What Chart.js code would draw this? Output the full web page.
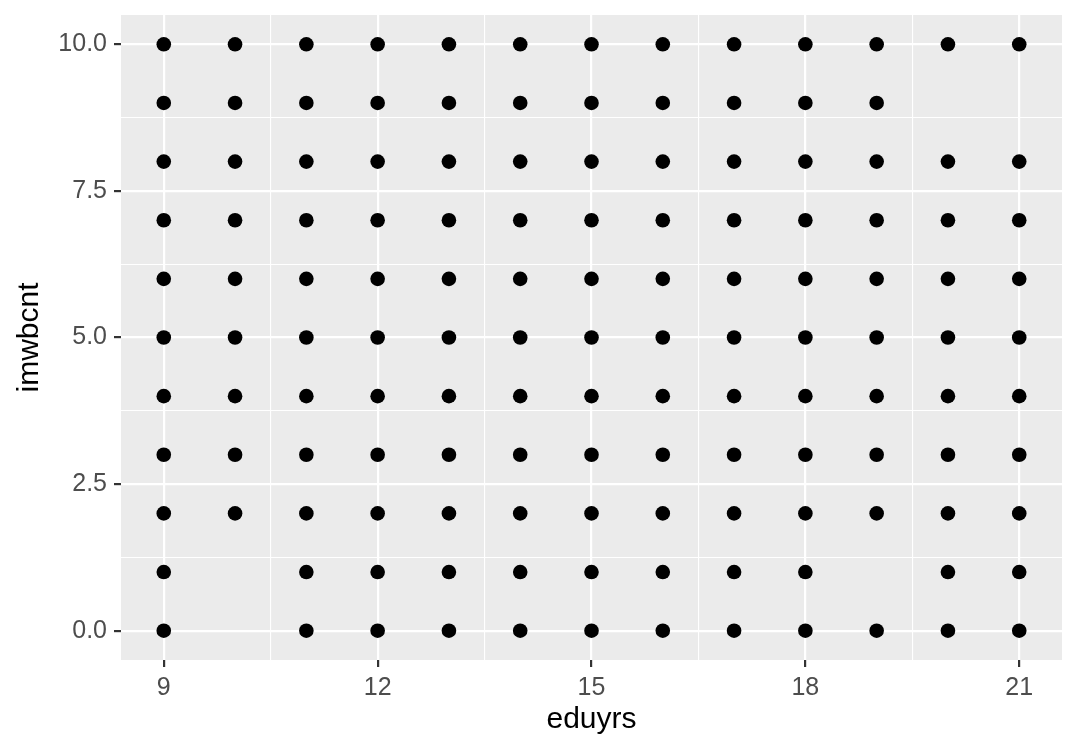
<!DOCTYPE html>
<html>
<head>
<meta charset="utf-8">
<script src="https://cdn.jsdelivr.net/npm/chart.js@4.4.0/dist/chart.umd.min.js"></script>
<style>
html,body{margin:0;padding:0;background:#fff;}
canvas{display:block;}
</style>
</head>
<body>
<canvas id="c" width="1080" height="756"></canvas>
<script>
// Data
const eduyrs = [9, 10, 11, 12, 13, 14, 15, 16, 17, 18, 19, 20, 21];
const imwbcntLevels = [
  [0,1,2,3,4,5,6,7,8,9,10],   // 9
  [2,3,4,5,6,7,8,9,10],       // 10
  [0,1,2,3,4,5,6,7,8,9,10],   // 11
  [0,1,2,3,4,5,6,7,8,9,10],   // 12
  [0,1,2,3,4,5,6,7,8,9,10],   // 13
  [0,1,2,3,4,5,6,7,8,9,10],   // 14
  [0,1,2,3,4,5,6,7,8,9,10],   // 15
  [0,1,2,3,4,5,6,7,8,9,10],   // 16
  [0,1,2,3,4,5,6,7,8,9,10],   // 17
  [0,1,2,3,4,5,6,7,8,9,10],   // 18
  [0,2,3,4,5,6,7,8,9,10],     // 19
  [0,1,2,3,4,5,6,7,8,10],     // 20
  [0,1,2,3,4,5,6,7,8,10]      // 21
];
const xMajorTicks = [9, 12, 15, 18, 21];
const xMinorTicks = [10.5, 13.5, 16.5, 19.5];
const yMajorTicks = [0, 2.5, 5, 7.5, 10];
const yMinorTicks = [1.25, 3.75, 6.25, 8.75];
const xTitle = 'eduyrs';
const yTitle = 'imwbcnt';

const points = [];
eduyrs.forEach((x, i) => imwbcntLevels[i].forEach(y => points.push({x: x, y: y})));

const isMajor = (v, majors) => majors.some(m => Math.abs(m - v) < 1e-9);

const panelBg = {
  id: 'panelBg',
  beforeDraw(chart) {
    const a = chart.chartArea, ctx = chart.ctx;
    ctx.save();
    ctx.fillStyle = '#EBEBEB';
    ctx.fillRect(a.left, a.top, a.right - a.left, a.bottom - a.top);
    ctx.restore();
  }
};

const FONT = "'Liberation Sans', Arial, Helvetica, sans-serif";

new Chart(document.getElementById('c'), {
  type: 'scatter',
  data: {
    datasets: [{
      data: points,
      backgroundColor: '#000',
      borderColor: '#000',
      borderWidth: 0,
      pointRadius: 7.3,
      pointHoverRadius: 7.3
    }]
  },
  options: {
    responsive: false,
    devicePixelRatio: 1,
    animation: false,
    layout: { padding: { left: 0, top: 15, right: 18, bottom: 0 } },
    plugins: { legend: { display: false }, tooltip: { enabled: false } },
    scales: {
      x: {
        type: 'linear',
        min: 8.4,
        max: 21.6,
        afterBuildTicks(scale) {
          scale.ticks = xMajorTicks.concat(xMinorTicks).sort((a, b) => a - b).map(v => ({value: v}));
        },
        afterFit(scale) { scale.height = 96; scale.paddingLeft = 0; scale.paddingRight = 0; },
        border: { display: false },
        grid: {
          color: '#FFFFFF',
          lineWidth: ctx => isMajor(ctx.tick.value, xMajorTicks) ? 2.2 : 1.1,
          drawTicks: true,
          tickLength: 7,
          tickWidth: 2.2,
          tickColor: ctx => isMajor(ctx.tick.value, xMajorTicks) ? '#333333' : 'rgba(0,0,0,0)'
        },
        ticks: {
          autoSkip: false,
          maxRotation: 0,
          padding: 6,
          color: '#4D4D4D',
          font: { family: FONT, size: 25 },
          callback: v => isMajor(v, xMajorTicks) ? String(v) : ''
        },
        title: {
          display: true,
          text: xTitle,
          color: '#000',
          font: { family: FONT, size: 30 },
          padding: { top: 0, bottom: 18 }
        }
      },
      y: {
        type: 'linear',
        min: -0.5,
        max: 10.5,
        afterBuildTicks(scale) {
          scale.ticks = yMajorTicks.concat(yMinorTicks).sort((a, b) => a - b).map(v => ({value: v}));
        },
        afterFit(scale) { scale.width = 121; scale.paddingTop = 0; scale.paddingBottom = 0; },
        border: { display: false },
        grid: {
          color: '#FFFFFF',
          lineWidth: ctx => isMajor(ctx.tick.value, yMajorTicks) ? 2.2 : 1.1,
          drawTicks: true,
          tickLength: 7,
          tickWidth: 2.2,
          tickColor: ctx => isMajor(ctx.tick.value, yMajorTicks) ? '#333333' : 'rgba(0,0,0,0)'
        },
        ticks: {
          autoSkip: false,
          padding: 7,
          color: '#4D4D4D',
          font: { family: FONT, size: 25 },
          callback: v => isMajor(v, yMajorTicks) ? v.toFixed(1) : ''
        },
        title: {
          display: true,
          text: yTitle,
          color: '#000',
          font: { family: FONT, size: 30 },
          padding: { top: 12, bottom: 0 }
        }
      }
    }
  },
  plugins: [panelBg]
});
</script>
</body>
</html>
